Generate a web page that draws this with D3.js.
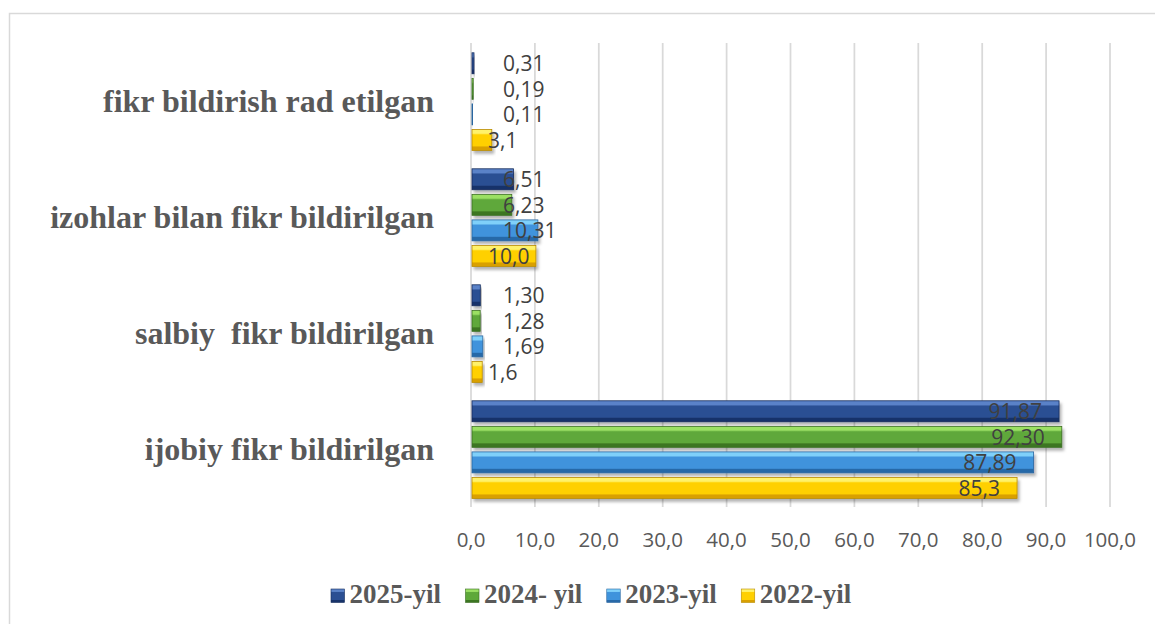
<!DOCTYPE html>
<html><head><meta charset="utf-8">
<script src="https://cdn.jsdelivr.net/npm/d3@7"></script>
<style>body{margin:0;background:#fff} svg{display:block}</style>
</head><body><svg id="c" width="1155" height="624"></svg>
<script>
// ---- data ----
const categories = ["fikr bildirish rad etilgan", "izohlar bilan fikr bildirilgan", "salbiy  fikr bildirilgan", "ijobiy fikr bildirilgan"];
const seriesNames = ["2025-yil", "2024- yil", "2023-yil", "2022-yil"];
const values2025 = [0.31, 6.51, 1.30, 91.87];
const values2024 = [0.19, 6.23, 1.28, 92.30];
const values2023 = [0.11, 10.31, 1.69, 87.89];
const values2022 = [3.1, 10.0, 1.6, 85.3];
const labelDecimals = [2, 2, 2, 1];
const xTicks = [0, 10, 20, 30, 40, 50, 60, 70, 80, 90, 100];

// ---- styles ----
const palette = [
  {top:"#5a82c8", base:"#2b4f93", bottom:"#17336a", stroke:"#142c5c"},
  {top:"#9be064", base:"#5ea83a", bottom:"#3c7622", stroke:"#3a6d22"},
  {top:"#7fd0fa", base:"#3f93dc", bottom:"#2869a8", stroke:"#2a66a0"},
  {top:"#fff26a", base:"#ffd000", bottom:"#d9a000", stroke:"#b88a00"}
];
const labelOffsets = [32, 32, 32, 17];

const allValues = [values2025, values2024, values2023, values2022];
const svg = d3.select("#c");
const plot = {left: 471, right: 1110, top: 43, bottom: 507};

// border
svg.append("rect").attr("x", 9.5).attr("y", 13.5).attr("width", 1160).attr("height", 640)
  .attr("fill", "#fff").attr("stroke", "#d9d9d9").attr("stroke-width", 1.5);

const defs = svg.append("defs");
palette.forEach((p, i) => {
  const g = defs.append("linearGradient").attr("id", "g" + i).attr("x1", 0).attr("y1", 0).attr("x2", 0).attr("y2", 1);
  [[0, p.top], [0.18, p.top], [0.26, p.base], [0.78, p.base], [0.84, p.bottom], [1, p.bottom]]
    .forEach(([o, c]) => g.append("stop").attr("offset", o).attr("stop-color", c));
});
const f = defs.append("filter").attr("id", "sh").attr("x", "-10%").attr("y", "-30%").attr("width", "130%").attr("height", "180%");
f.append("feDropShadow").attr("dx", 2).attr("dy", 3).attr("stdDeviation", 1.8).attr("flood-color", "#000").attr("flood-opacity", 0.3);

const x = d3.scaleLinear().domain([0, 100]).range([plot.left, plot.right]);
const y0 = d3.scaleBand().domain(categories).range([plot.top, plot.bottom]);
const y1 = d3.scaleBand().domain(seriesNames).range([9.8, y0.bandwidth() - 8.6]).paddingInner(0.18);

// gridlines
svg.append("g").selectAll("line").data(xTicks).join("line")
  .attr("x1", d => x(d)).attr("x2", d => x(d))
  .attr("y1", plot.top).attr("y2", plot.bottom)
  .attr("stroke", "#d9d9d9").attr("stroke-width", 1.75);

// tick labels
const fmtTick = d => d3.format(".1f")(d).replace(".", ",");
svg.append("g").selectAll("text").data(xTicks).join("text")
  .attr("x", d => x(d)).attr("y", 547)
  .attr("text-anchor", "middle")
  .attr("font-family", "'Open Sans', sans-serif").attr("font-size", 20.5)
  .attr("fill", "#595959").text(fmtTick);

// category labels
svg.append("g").selectAll("text").data(categories).join("text")
  .attr("x", 434).attr("y", d => y0(d) + y0.bandwidth() / 2 + 11)
  .attr("text-anchor", "end")
  .attr("font-family", "'Liberation Serif', 'Times New Roman', serif")
  .attr("font-weight", "bold").attr("font-size", 32)
  .attr("fill", "#595959").style("white-space", "pre").text(d => d);

// bars
const barData = [];
seriesNames.forEach((s, si) => categories.forEach((c, ci) => barData.push({s, si, c, v: allValues[si][ci]})));

svg.append("g").selectAll("rect").data(barData).join("rect")
  .attr("x", x(0) + 1)
  .attr("y", d => y0(d.c) + y1(d.s))
  .attr("width", d => Math.max(0.6, x(d.v) - x(0)))
  .attr("height", y1.bandwidth())
  .attr("fill", d => `url(#g${d.si})`)
  .attr("stroke", d => palette[d.si].stroke).attr("stroke-width", 0.8)
  .attr("filter", "url(#sh)");

// data labels
const fmtVal = d => d.v.toFixed(labelDecimals[d.si]).replace(".", ",");
svg.append("g").selectAll("text").data(barData).join("text")
  .attr("x", d => (x(d.v) - x(0) > 150) ? x(d.v) - 16 : x(0) + labelOffsets[d.si])
  .attr("text-anchor", d => (x(d.v) - x(0) > 150) ? "end" : "start")
  .attr("y", d => y0(d.c) + y1(d.s) + y1.bandwidth() / 2 + 8)
  .attr("font-family", "'Open Sans', sans-serif").attr("font-size", 21)
  .attr("fill", "#404040").text(fmtVal);

// legend
const lg = svg.append("g");
let lx = 331;
seriesNames.forEach((s, i) => {
  lg.append("rect").attr("x", lx).attr("y", 589).attr("width", 13.5).attr("height", 13.5)
    .attr("fill", `url(#g${i})`).attr("stroke", palette[i].stroke).attr("stroke-width", 0.6);
  const t = lg.append("text").attr("x", lx + 18.5).attr("y", 603)
    .attr("font-family", "'Liberation Serif', 'Times New Roman', serif")
    .attr("font-weight", "bold").attr("font-size", 27)
    .attr("fill", "#595959").style("white-space", "pre").text(s);
  lx = lx + 18.5 + t.node().getComputedTextLength() + 24.5;
});
</script></body></html>
